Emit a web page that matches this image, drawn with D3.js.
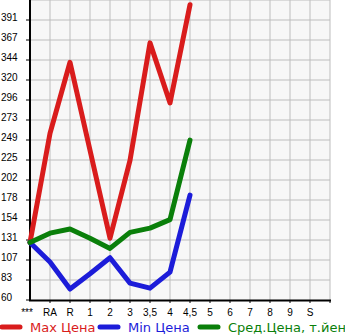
<!DOCTYPE html>
<html>
<head>
<meta charset="utf-8">
<script src="https://cdn.jsdelivr.net/npm/d3@7"></script>
<style>
  body { margin: 0; background: #fff; }
  svg { display: block; font-family: "Liberation Sans", Arial, sans-serif; }
</style>
</head>
<body>
<div id="chart"></div>
<script>
// categories along the bottom
const categories = ["***", "RA", "R", "1", "2", "3", "3,5", "4", "4,5", "5", "6", "7", "8", "9", "S"];

// series (first 9 categories have data)
const maxPrice = [128, 257, 341, 237, 133, 225, 364, 293, 409];
const minPrice = [128, 105, 73, 91, 110, 80, 74, 93, 184];
const avgPrice = [128, 139, 144, 133, 121, 140, 145, 155, 249];

// y tick labels as printed
const yTicks = [60, 83, 107, 131, 154, 178, 202, 225, 249, 273, 296, 320, 344, 367, 391];

const legendNames = ["Max Цена", "Min Цена", "Сред.Цена, т.йен"];

(function () {
    const width = 345;
    const height = 335;
    const margin = { top: 0, right: 15, bottom: 35, left: 30 };
    const innerW = width - margin.left - margin.right;   // 300
    const innerH = height - margin.top - margin.bottom;  // 300

    const colors = ["#d91c1c", "#1c1cd9", "#0a7f0a"];

    const svg = d3.select("#chart")
        .append("svg")
        .attr("width", width)
        .attr("height", height);

    const g = svg.append("g")
        .attr("transform", `translate(${margin.left},${margin.top})`);

    // x: category slots 20px apart, last slot leaves a gap to the right edge
    const x = d3.scalePoint()
        .domain(categories)
        .range([0, innerW - 20]);

    const yStep = (391 - 60) / 14;
    const y = d3.scaleLinear()
        .domain([60, 60 + yStep * 15])
        .range([innerH, 0]);

    // plot background
    g.append("rect")
        .attr("width", innerW)
        .attr("height", innerH)
        .attr("fill", "#f7f7f7");

    // grid
    const gridX = categories.map(c => x(c)).concat([innerW]);
    g.append("g")
        .selectAll("line")
        .data(gridX.slice(1))
        .join("line")
        .attr("x1", d => d).attr("x2", d => d)
        .attr("y1", 0).attr("y2", innerH)
        .attr("stroke", "#bdbdbd")
        .attr("stroke-width", 1);

    g.append("g")
        .selectAll("line")
        .data(d3.range(1, 16))
        .join("line")
        .attr("x1", 0).attr("x2", innerW)
        .attr("y1", i => y(60 + yStep * i)).attr("y2", i => y(60 + yStep * i))
        .attr("stroke", "#bdbdbd")
        .attr("stroke-width", 1);

    // y axis
    const yAxis = g.append("g");
    yAxis.selectAll("line")
        .data(yTicks)
        .join("line")
        .attr("x1", -4).attr("x2", 0)
        .attr("y1", (d, i) => y(60 + yStep * i)).attr("y2", (d, i) => y(60 + yStep * i))
        .attr("stroke", "#000");
    yAxis.selectAll("text")
        .data(yTicks)
        .join("text")
        .attr("x", -margin.left + 1)
        .attr("y", (d, i) => y(60 + yStep * i) + 1)
        .style("font-size", "10px")
        .attr("fill", "#000")
        .text(d => d);
    yAxis.append("line")
        .attr("x1", 0).attr("x2", 0)
        .attr("y1", 0).attr("y2", innerH + 1)
        .attr("stroke", "#000")
        .attr("stroke-width", 2);

    // x axis
    const xAxis = g.append("g").attr("transform", `translate(0,${innerH})`);
    xAxis.append("line")
        .attr("x1", -1).attr("x2", innerW + 1)
        .attr("y1", 0.5).attr("y2", 0.5)
        .attr("stroke", "#000")
        .attr("stroke-width", 2);
    xAxis.selectAll(".tick")
        .data(gridX.slice(1))
        .join("line")
        .attr("class", "tick")
        .attr("x1", d => d).attr("x2", d => d)
        .attr("y1", 0).attr("y2", 3)
        .attr("stroke", "#000");
    xAxis.selectAll("text")
        .data(categories)
        .join("text")
        .attr("x", d => x(d) - (d === "***" ? 3 : 0))
        .attr("y", 16)
        .attr("text-anchor", "middle")
        .style("font-size", "10px")
        .attr("fill", "#000")
        .text(d => d);

    // lines
    const line = d3.line()
        .x((d, i) => x(categories[i]))
        .y(d => y(d));

    [maxPrice, minPrice, avgPrice].forEach((s, k) => {
        g.append("path")
            .datum(s)
            .attr("d", line)
            .attr("fill", "none")
            .attr("stroke", colors[k])
            .attr("stroke-width", 5)
            .attr("stroke-linejoin", "round")
            .attr("stroke-linecap", "round");
    });

    // legend
    const legendX = [0, 98, 198];
    const legend = svg.append("g").attr("transform", "translate(0,327)");
    legendNames.forEach((name, k) => {
        legend.append("line")
            .attr("x1", legendX[k] + 2).attr("x2", legendX[k] + 20)
            .attr("y1", 0).attr("y2", 0)
            .attr("stroke", colors[k])
            .attr("stroke-width", 5)
            .attr("stroke-linecap", "round");
        legend.append("text")
            .attr("x", legendX[k] + 30)
            .attr("y", 5)
            .style("font-family", "'DejaVu Sans', sans-serif")
            .style("font-size", "13px")
            .attr("fill", colors[k])
            .text(name);
    });
})();
</script>
</body>
</html>
